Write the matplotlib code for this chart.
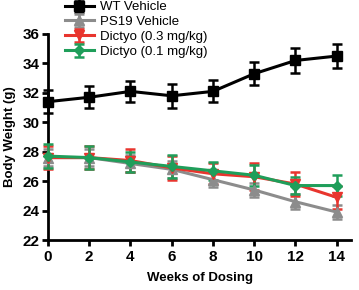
import matplotlib
matplotlib.use("Agg")
import matplotlib.pyplot as plt
import numpy as np

plt.rcParams['font.family'] = ['Liberation Sans', 'DejaVu Sans']

weeks = [0, 2, 4, 6, 8, 10, 12, 14]
wt_mean = [31.4, 31.7, 32.1, 31.8, 32.1, 33.3, 34.2, 34.5]
wt_err = [0.8, 0.75, 0.7, 0.8, 0.75, 0.8, 0.85, 0.8]
ps19_mean = [27.6, 27.6, 27.2, 26.8, 26.1, 25.4, 24.6, 23.9]
ps19_err = [0.6, 0.6, 0.6, 0.6, 0.5, 0.5, 0.5, 0.5]
d03_mean = [27.6, 27.6, 27.4, 26.9, 26.5, 26.3, 25.8, 24.9]
d03_err = [0.8, 0.8, 0.8, 0.8, 0.7, 0.9, 0.8, 0.8]
d01_mean = [27.7, 27.6, 27.3, 27.0, 26.7, 26.4, 25.7, 25.7]
d01_err = [0.8, 0.8, 0.7, 0.8, 0.6, 0.7, 0.6, 0.7]

labels = ['WT Vehicle', 'PS19 Vehicle', 'Dictyo (0.3 mg/kg)', 'Dictyo (0.1 mg/kg)']
colors = ['#000000', '#8c8c8c', '#e8352e', '#1f9e5a']
markers = ['s', '^', 'v', 'D']
msizes = [6.5, 6.5, 6.5, 5.5]

fig = plt.figure(figsize=(3.59, 2.90), dpi=100)
ax = fig.add_axes([0.1337, 0.1724, 0.978 - 0.1337, 0.8828 - 0.1724])

series = [(ps19_mean, ps19_err), (d03_mean, d03_err), (d01_mean, d01_err), (wt_mean, wt_err)]
order = [1, 2, 3, 0]
handles = {}
for idx, (m, e) in zip(order, series):
    h = ax.errorbar(weeks, m, yerr=e, color=colors[idx], marker=markers[idx],
                    markersize=msizes[idx], lw=2.2, elinewidth=1.8, capsize=3.5,
                    capthick=1.8, label=labels[idx], clip_on=False, zorder=3)
    handles[idx] = h

ax.set_xlim(0, 14.7)
ax.set_ylim(22, 36)
ax.set_xticks(weeks)
ax.set_yticks([22, 24, 26, 28, 30, 32, 34, 36])
ax.spines['top'].set_visible(False)
ax.spines['right'].set_visible(False)
ax.spines['left'].set_linewidth(2)
ax.spines['bottom'].set_linewidth(2)
ax.tick_params(width=2, length=4, labelsize=11)
ax.tick_params(axis='x', pad=3)
ax.tick_params(axis='y', pad=2)
for t in ax.get_xticklabels() + ax.get_yticklabels():
    t.set_fontweight('bold')
ax.set_xlabel('Weeks of Dosing', fontsize=9.5, fontweight='bold', labelpad=6)
ax.set_ylabel('Body Weight (g)', fontsize=9.5, fontweight='bold', labelpad=5)

leg = fig.legend([handles[i] for i in range(4)], labels, loc='upper left',
                 bbox_to_anchor=(0.165, 1.015), frameon=False, fontsize=9.5,
                 handlelength=2.2, handletextpad=0.5, labelspacing=0.2,
                 borderaxespad=0)

fig.savefig('out.png', dpi=100)
